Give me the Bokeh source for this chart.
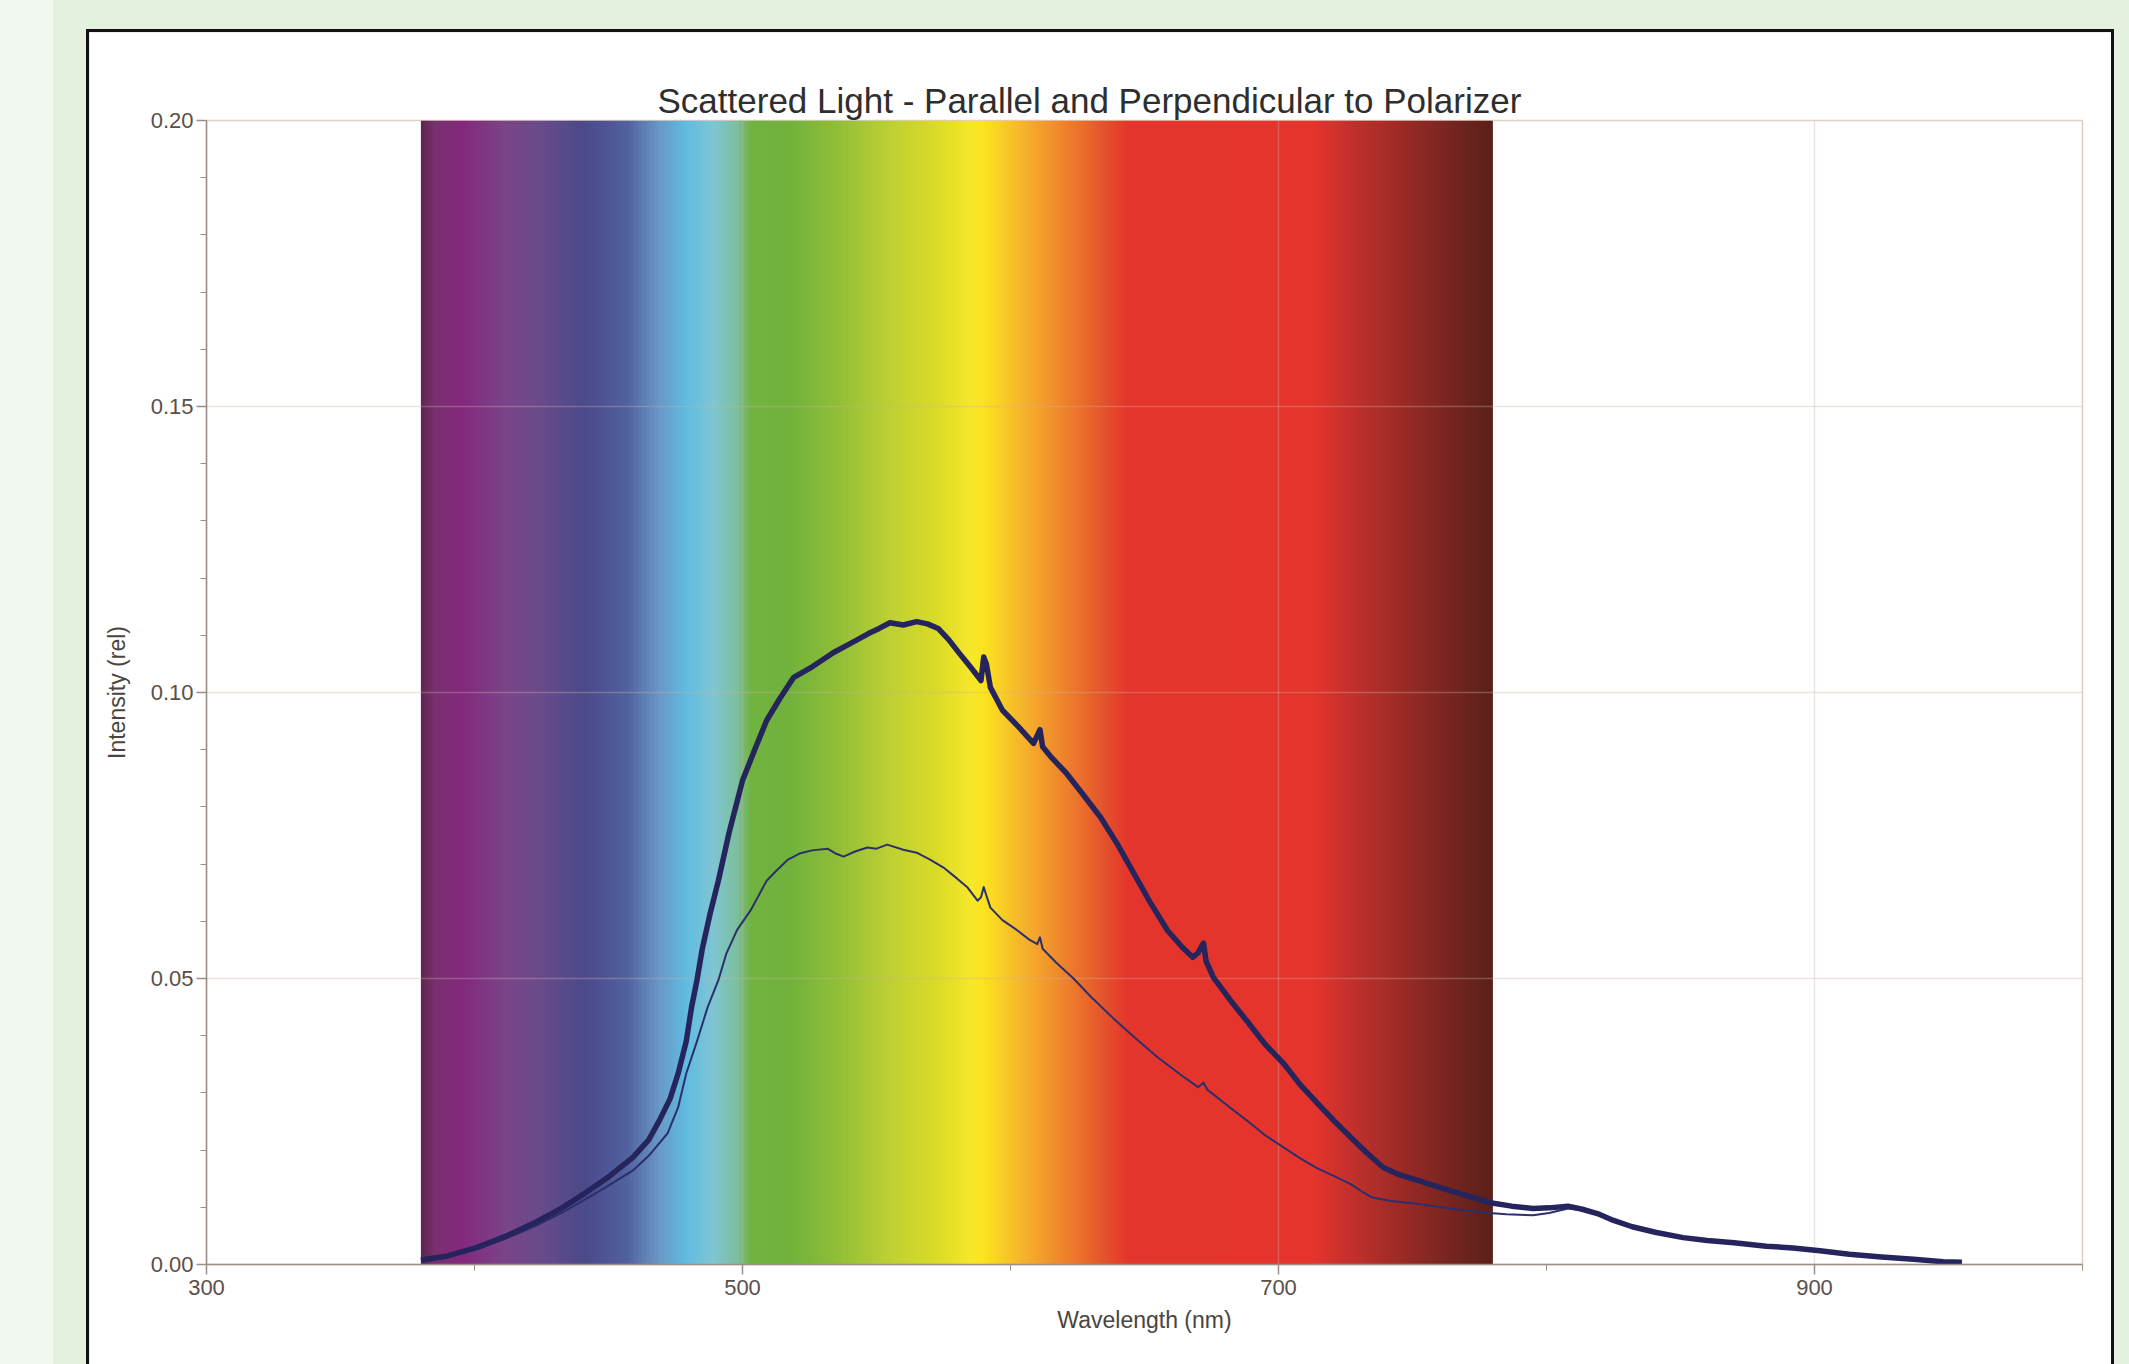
import numpy as np
from bokeh.plotting import figure
from bokeh.models import Range1d, FixedTicker, PrintfTickFormatter, Column
from bokeh.embed import file_html
from bokeh.resources import INLINE

TITLE = "Scattered Light - Parallel and Perpendicular to Polarizer"
X_LABEL = "Wavelength (nm)"
Y_LABEL = "Intensity (rel)"

x_major = [300, 500, 700, 900]
x_minor = [400, 600, 800, 1000]
y_major = [0.0, 0.05, 0.10, 0.15, 0.20]
y_minor = [0.01, 0.02, 0.03, 0.04, 0.06, 0.07, 0.08, 0.09, 0.11, 0.12, 0.13, 0.14, 0.16, 0.17, 0.18, 0.19]
x_grid = [500, 700, 900]
y_grid = [0.05, 0.10, 0.15]

# visible spectrum band (wavelength stops and colours)
band_nm = [380, 385, 395, 411, 423, 441, 457, 469, 479, 489, 498, 503, 517, 535, 554, 573, 586, 590,
           605, 623, 636, 644, 714, 729, 748, 768, 780]
band_colors = ["#5e2650", "#7a3070", "#84297e", "#7b4488", "#6c4b8a", "#4b4a8b", "#5262a0", "#6a9ac8",
               "#60bce2", "#80c6d4", "#7cc09c", "#72b440", "#70b23c", "#90be38", "#bcd034", "#dcdc28",
               "#f8e82a", "#fce420", "#f6b42c", "#ee7a2c", "#e4502c", "#e4362c", "#e4342c", "#c0302c",
               "#982a26", "#702420", "#5c201a"]

# parallel to polarizer
par_wl = [380, 390, 401, 412, 422, 432, 441, 450, 459, 465, 469, 473, 476, 479, 481, 483, 485, 488, 491, 495,
          500, 505, 509, 514, 519, 526, 534, 540, 547, 551, 555, 560, 565, 569, 573, 577, 581, 585, 589, 590,
          591, 592.5, 597, 603, 608.6, 610, 611, 612, 615, 621, 627, 633.6, 640, 646, 652, 658.6, 664, 668, 670, 672,
          673, 675.7, 682, 688, 695, 702, 708, 714.5, 721, 727, 733, 739, 745, 752, 758, 764, 772, 779, 787, 795,
          801, 808, 813, 819, 825, 832, 841, 851, 860, 870, 882, 892, 902, 913, 925, 937, 948, 955]
par_val = [0.0008, 0.0015, 0.0030, 0.0050, 0.0072, 0.0097, 0.0124, 0.0153, 0.0187, 0.0218,
           0.0252, 0.0290, 0.0334, 0.0390, 0.0450, 0.0497, 0.0552, 0.0615, 0.0671, 0.0755,
           0.0846, 0.0905, 0.0951, 0.0990, 0.1026, 0.1045, 0.1070, 0.1085, 0.1103, 0.1112,
           0.1122, 0.1118, 0.1124, 0.1120, 0.1112, 0.1092, 0.1068, 0.1045, 0.1021, 0.1062,
           0.1050, 0.1009, 0.0969, 0.0940, 0.0911, 0.0925, 0.0935, 0.0905, 0.0888, 0.0858,
           0.0822, 0.0782, 0.0734, 0.0684, 0.0634, 0.0584, 0.0555, 0.0537, 0.0545, 0.0562,
           0.0530, 0.0502, 0.0462, 0.0427, 0.0385, 0.0351, 0.0315, 0.0282, 0.0250, 0.0222,
           0.0195, 0.0170, 0.0157, 0.0147, 0.0138, 0.0129, 0.0118, 0.0108, 0.0102, 0.0098,
           0.0099, 0.0102, 0.0097, 0.0089, 0.0077, 0.0066, 0.0056, 0.0047, 0.0042, 0.0038,
           0.0032, 0.0029, 0.0024, 0.0018, 0.0013, 0.0009, 0.0005, 0.0004]

# perpendicular to polarizer
perp_wl = [380, 390, 401, 412, 422, 432, 441, 450, 459, 465, 472, 476, 479, 483, 487, 491, 494, 498, 503, 509,
           513, 517, 521.6, 526, 531.7, 535, 537.7, 542, 546.6, 550, 554, 560, 565, 570, 575, 580, 584, 587.7, 589, 590,
           591, 592.5, 597, 602.6, 607, 610, 611, 612, 617, 623.5, 630, 638, 646, 655, 664, 670, 672, 673.5, 675, 682,
           689.5, 695, 701.8, 708, 714.5, 721, 726.8, 731, 735, 742, 751.8, 764, 776, 785, 795, 801, 808, 813, 819, 825,
           832, 841, 851, 860, 870, 882, 892, 902, 913, 925, 937, 948, 955]
perp_val = [0.0006, 0.0013, 0.0027, 0.0046, 0.0066, 0.0089, 0.0113, 0.0138, 0.0164, 0.0190,
            0.0229, 0.0275, 0.0334, 0.0390, 0.0450, 0.0497, 0.0544, 0.0585, 0.0619, 0.0671,
            0.0690, 0.0708, 0.0719, 0.0724, 0.0727, 0.0718, 0.0713, 0.0722, 0.0729, 0.0727,
            0.0734, 0.0725, 0.0720, 0.0708, 0.0694, 0.0675, 0.0659, 0.0636, 0.0642, 0.0660,
            0.0645, 0.0624, 0.0602, 0.0584, 0.0568, 0.0560, 0.0572, 0.0552, 0.0528, 0.0500,
            0.0468, 0.0432, 0.0398, 0.0362, 0.0330, 0.0310, 0.0318, 0.0305, 0.0300, 0.0274,
            0.0247, 0.0226, 0.0205, 0.0186, 0.0168, 0.0154, 0.0141, 0.0128, 0.0117, 0.0111,
            0.0106, 0.0098, 0.0091, 0.0088, 0.0086, 0.0090, 0.0098, 0.0095, 0.0088, 0.0076,
            0.0065, 0.0055, 0.0046, 0.0041, 0.0037, 0.0031, 0.0028, 0.0023, 0.0017, 0.0012,
            0.0008, 0.0005, 0.0003]

FONT = "Liberation Sans"

p = figure(width=2022, height=1332, output_backend="svg", toolbar_location=None,
           x_range=Range1d(300, 1000), y_range=Range1d(0, 0.2),
           min_border_left=117, min_border_right=29, min_border_top=88, min_border_bottom=100,
           title=TITLE)
p.margin = (32, 0, 0, 89)
p.styles = {"outline": "3px solid #111111"}
p.background_fill_color = "white"
p.border_fill_color = "white"
p.outline_line_color = "#e2cfc2"
p.outline_line_width = 1.5

p.title.text_font = FONT
p.title.text_font_size = "35px"
p.title.text_font_style = "normal"
p.title.text_color = "#2e2e2e"
p.title.align = "left"
p.title.offset = 451
p.title.standoff = 2

# spectrum band as an image
N = 800
nm = np.linspace(band_nm[0], band_nm[-1], N)
rgb = np.array([[int(c[i:i + 2], 16) for i in (1, 3, 5)] for c in band_colors], dtype=float)
img = np.empty((1, N), dtype=np.uint32)
view = img.view(dtype=np.uint8).reshape((1, N, 4))
for ch in range(3):
    view[0, :, ch] = np.interp(nm, band_nm, rgb[:, ch]).astype(np.uint8)
view[0, :, 3] = 255
band = p.image_rgba(image=[img], x=band_nm[0], y=0, dw=band_nm[-1] - band_nm[0], dh=0.2)
band.level = "image"

# grid
p.xgrid.ticker = FixedTicker(ticks=x_grid)
p.ygrid.ticker = FixedTicker(ticks=y_grid)
for g in (p.xgrid, p.ygrid):
    g.grid_line_color = "#d0b0a0"
    g.grid_line_alpha = 0.35
    g.grid_line_width = 1.5

# curves
p.line(perp_wl, perp_val, line_width=2.0, line_color="#2b2f6b", line_join="round")
p.line(par_wl, par_val, line_width=5.5, line_color="#25245c", line_join="round")

# axes
p.xaxis.ticker = FixedTicker(ticks=x_major, minor_ticks=x_minor)
p.yaxis.ticker = FixedTicker(ticks=y_major, minor_ticks=y_minor)
p.yaxis.formatter = PrintfTickFormatter(format="%.2f")
p.xaxis.axis_label = X_LABEL
p.yaxis.axis_label = Y_LABEL
for ax in (p.xaxis, p.yaxis):
    ax.axis_line_color = "#9c8e86"
    ax.axis_line_width = 1.5
    ax.major_tick_line_color = "#9c8e86"
    ax.minor_tick_line_color = "#9c8e86"
    ax.major_tick_line_width = 1.5
    ax.major_tick_in = 0
    ax.major_tick_out = 10
    ax.minor_tick_in = 0
    ax.minor_tick_out = 6
    ax.major_label_text_font = FONT
    ax.major_label_text_font_size = "22px"
    ax.major_label_text_color = "#5b5048"
    ax.axis_label_text_font = FONT
    ax.axis_label_text_font_size = "23px"
    ax.axis_label_text_font_style = "normal"
    ax.axis_label_text_color = "#4a4440"
p.xaxis.major_label_standoff = 5
p.xaxis.axis_label_standoff = 9
p.yaxis.major_label_standoff = 3
p.yaxis.axis_label_standoff = 18

page = Column(children=[p], width=2129, height=1364,
              styles={"background": "linear-gradient(to right, #f1f8ef 0px, #f1f8ef 53px, #e5f1df 53px, #e5f1df 100%)"})

open("out.html", "w").write(file_html(page, INLINE))
